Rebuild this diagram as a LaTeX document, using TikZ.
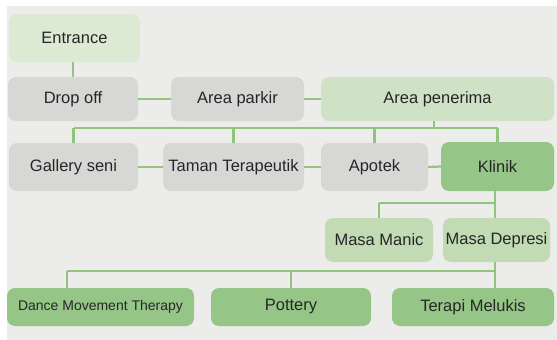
\documentclass[tikz,border=0pt]{standalone}
\usepackage{fontspec}
\setmainfont{Liberation Sans}
\definecolor{bgcol}{HTML}{ECECEA}
\definecolor{graybox}{HTML}{D7D7D6}
\definecolor{palegreen}{HTML}{DCEAD4}
\definecolor{lightgreen}{HTML}{CFE2C6}
\definecolor{midgreen}{HTML}{C2DBB5}
\definecolor{darkgreen}{HTML}{95C688}
\definecolor{linegreen}{HTML}{93C47D}
\definecolor{txt}{HTML}{262626}
\begin{document}
\begin{tikzpicture}[x=1pt,y=-1pt,
  box/.style={rectangle,rounded corners=8pt,inner sep=0pt,text=txt,
    font=\fontsize{16.5}{19}\selectfont},
  conn/.style={draw=linegreen,line width=2.2pt}]
\useasboundingbox (0,0) rectangle (557,340);
\fill[white] (0,0) rectangle (557,340);
\fill[bgcol] (7,6) rectangle (557,340);
% row 1
\node[box,fill=palegreen,minimum width=131pt,minimum height=48pt] (entrance) at (74.5,38) {Entrance};
% row 2
\node[box,fill=graybox,minimum width=130pt,minimum height=44pt] (dropoff) at (73,99) {Drop off};
\node[box,fill=graybox,minimum width=133pt,minimum height=44pt] (parkir) at (237.5,99) {Area parkir};
\node[box,fill=lightgreen,minimum width=233pt,minimum height=44pt] (penerima) at (437.5,99) {Area penerima};
% row 3
\node[box,fill=graybox,minimum width=129pt,minimum height=48pt] (gallery) at (73.5,167) {Gallery seni};
\node[box,fill=graybox,minimum width=141pt,minimum height=48pt] (taman) at (233.5,167) {Taman Terapeutik};
\node[box,fill=graybox,minimum width=107pt,minimum height=48pt] (apotek) at (374.5,167) {Apotek};
\node[box,fill=darkgreen,minimum width=113pt,minimum height=49pt] (klinik) at (497.5,166.5) {Klinik};
% row 4
\node[box,fill=midgreen,minimum width=108pt,minimum height=44pt] (manic) at (379,240) {Masa Manic};
\node[box,fill=midgreen,minimum width=107pt,minimum height=44pt] (depresi) at (496.5,240) {Masa Depresi};
% row 5
\node[box,fill=darkgreen,minimum width=187pt,minimum height=38pt,font=\fontsize{14}{16}\selectfont] (dance) at (100.5,307) {Dance Movement Therapy};
\node[box,fill=darkgreen,minimum width=160pt,minimum height=38pt] (pottery) at (291,307) {Pottery};
\node[box,fill=darkgreen,minimum width=162pt,minimum height=38pt] (melukis) at (473,307) {Terapi Melukis};
% connectors
\draw[conn] (dropoff.north) -- (dropoff.north |- entrance.south);
\draw[conn] (dropoff.east) -- (parkir.west);
\draw[conn] (parkir.east) -- (penerima.west);
\coordinate (b1) at (434,128);
\draw[conn] (b1) -- (b1 |- penerima.south);
\draw[conn] (gallery.north |- b1) -- (klinik.north |- b1);
\draw[conn] (gallery.north) -- (gallery.north |- b1);
\draw[conn] (taman.north) -- (taman.north |- b1);
\draw[conn] (apotek.north) -- (apotek.north |- b1);
\draw[conn] (klinik.north) -- (klinik.north |- b1);
\draw[conn] (gallery.east) -- (taman.west);
\draw[conn] (taman.east) -- (apotek.west);
\draw[conn] (apotek.east) -- (klinik.west);
\coordinate (b2) at (495,203);
\draw[conn] (b2 |- klinik.south) -- (b2 |- depresi.north);
\draw[conn] (manic.north |- b2) -- (b2);
\draw[conn] (manic.north) -- (manic.north |- b2);
\coordinate (b3l) at (67,271);
\coordinate (b3r) at (495,271);
\draw[conn] (b3r |- depresi.south) -- (b3r |- melukis.north);
\draw[conn] (b3l) -- (b3r);
\draw[conn] (b3l) -- (b3l |- dance.north);
\draw[conn] (pottery.north) -- (pottery.north |- b3l);
\end{tikzpicture}
\end{document}
